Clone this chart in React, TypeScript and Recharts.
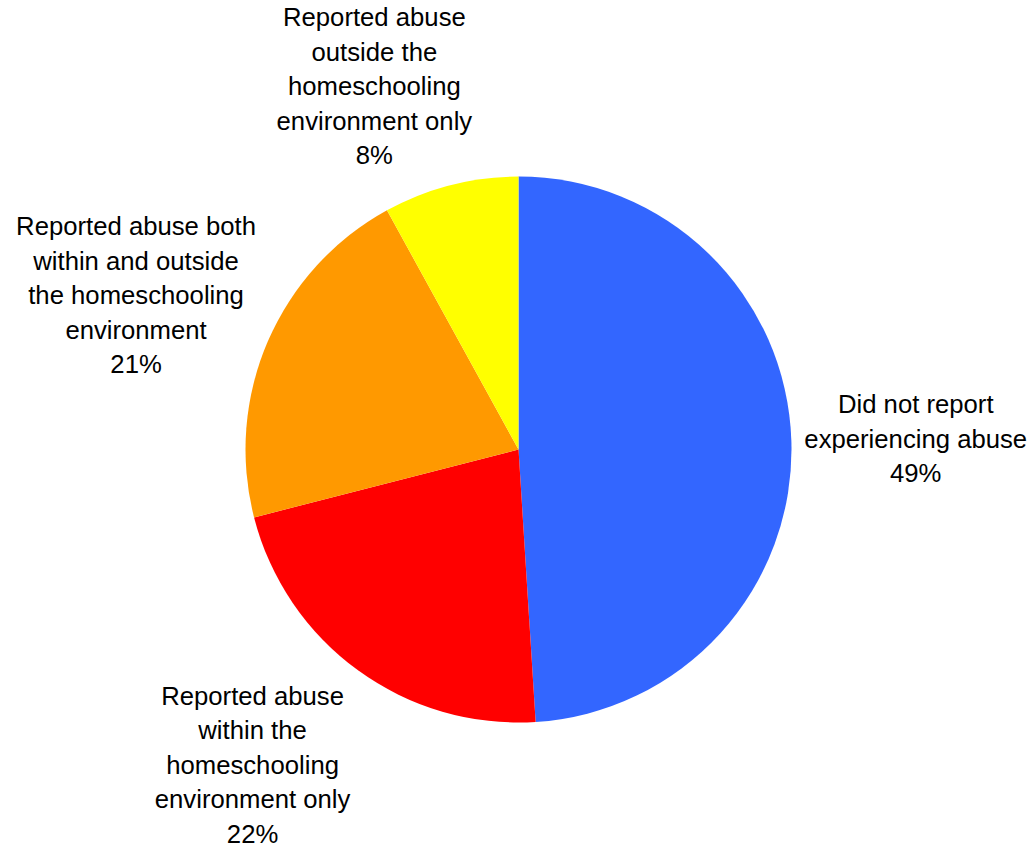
import React from 'react';
import { PieChart, Pie, Cell } from 'recharts';

const categories = [
  'Did not report\nexperiencing abuse',
  'Reported abuse\nwithin the\nhomeschooling\nenvironment only',
  'Reported abuse both\nwithin and outside\nthe homeschooling\nenvironment',
  'Reported abuse\noutside the\nhomeschooling\nenvironment only',
];
const shares = [49, 22, 21, 8];
const colors = ['#3366FF', '#FF0000', '#FF9900', '#FFFF00'];

const data = categories.map((name, i) => ({ name, value: shares[i] }));

const FONT_SIZE = 25.7;
const LINE_H = 34.5;
const FONT = 'Liberation Sans, Arial, sans-serif';

let ctx: CanvasRenderingContext2D | null = null;
const measure = (s: string) => {
  if (!ctx) ctx = document.createElement('canvas').getContext('2d');
  if (!ctx) return s.length * FONT_SIZE * 0.5;
  ctx.font = `${FONT_SIZE}px "Liberation Sans"`;
  return ctx.measureText(s).width;
};

const clamp = (v: number) => Math.max(-1, Math.min(1, v));

// label block sits just outside the pie, pushed away along the slice's mid angle
const renderLabel = (props: any) => {
  const { cx, cy, midAngle, outerRadius, name, value } = props;
  const lines = [...String(name).split('\n'), `${value}%`];
  const rad = (-midAngle * Math.PI) / 180;
  const dx = Math.cos(rad);
  const dy = Math.sin(rad);
  const w = Math.max(...lines.map(measure));
  const h = lines.length * LINE_H;
  const r = outerRadius + 13;
  const x = cx + dx * r + (w / 2) * clamp(3 * dx);
  const y = cy + dy * r + (h / 2) * clamp(1.2 * dy);
  const firstBase = y - ((lines.length - 1) * LINE_H) / 2 + FONT_SIZE * 0.36;
  return (
    <text x={x} y={firstBase} textAnchor="middle" fill="#000" fontSize={FONT_SIZE} fontFamily={FONT}>
      {lines.map((l, i) => (
        <tspan key={i} x={x} dy={i === 0 ? 0 : LINE_H}>
          {l}
        </tspan>
      ))}
    </text>
  );
};

export default function App() {
  return (
    <div style={{ position: 'absolute', left: 0, top: 0, width: 1029, height: 855, background: '#fff' }}>
      <PieChart width={1029} height={855} margin={{ top: 0, right: 0, bottom: 0, left: 0 }}>
        <Pie
          data={data}
          dataKey="value"
          nameKey="name"
          cx={518.5}
          cy={449.5}
          outerRadius={273}
          startAngle={90}
          endAngle={-270}
          stroke="none"
          label={renderLabel}
          labelLine={false}
          isAnimationActive={false}
        >
          {data.map((d, i) => (
            <Cell key={d.name} fill={colors[i]} />
          ))}
        </Pie>
      </PieChart>
    </div>
  );
}
